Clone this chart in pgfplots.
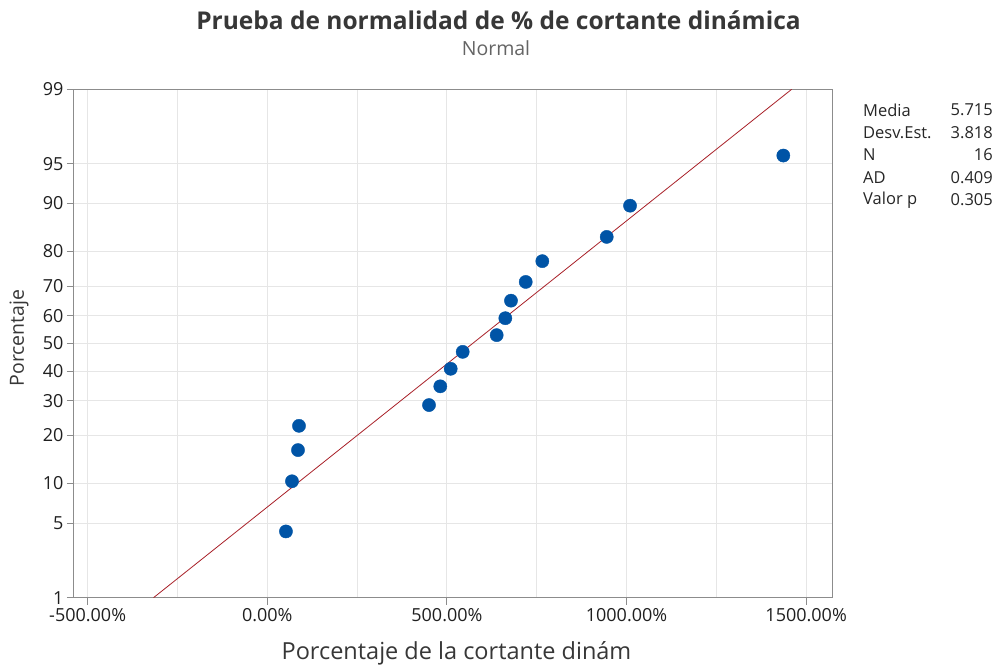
\documentclass[border=0pt]{standalone}
\usepackage{pgfplots}
\pgfplotsset{compat=1.18}
\usepackage{fontspec}
\setmainfont{Open Sans}
\IfFontExistsTF{Open Sans SemiBold}{\newfontfamily\semib{Open Sans SemiBold}}{\newcommand\semib{\bfseries}}
\definecolor{ptblue}{RGB}{0,84,166}
\definecolor{fitred}{RGB}{168,32,40}
\definecolor{gridc}{RGB}{230,230,230}
\definecolor{axc}{RGB}{140,140,140}
\definecolor{titc}{RGB}{55,55,55}
\definecolor{subc}{RGB}{100,100,100}
\begin{document}
\begin{tikzpicture}[x=1pt,y=1pt]
\path[use as bounding box] (-74,-71.3) rectangle (926,597.7);
\begin{axis}[
  at={(0,0)}, anchor=south west,
  scale only axis, width=758pt, height=508.4pt,
  xmin=-5.38, xmax=15.72, ymin=-2.3263, ymax=2.3263,
  xtick={-5,0,5,10,15},
  xticklabels={-500.00\%,0.00\%,500.00\%,1000.00\%,1500.00\%},
  minor xtick={-2.5,2.5,7.5,12.5},
  ytick={-2.3263,-1.6449,-1.2816,-0.8416,-0.5244,-0.2533,0,0.2533,0.5244,0.8416,1.2816,1.6449,2.3263},
  yticklabels={1,5,10,20,30,40,50,60,70,80,90,95,99},
  grid=both,
  major grid style={gridc, line width=1pt},
  minor grid style={gridc, line width=1pt},
  axis line style={axc, line width=1pt},
  tick style={axc, line width=1pt},
  tick align=outside, major tick length=7pt, minor tick length=0pt,
  xtick pos=lower, ytick pos=left,
  ticklabel style={font=\fontsize{18}{18}\selectfont, text=black!88},
  clip=true,
]
\addplot[fitred, line width=0.8pt] coordinates {(-3.167,-2.3263) (14.597,2.3263)};
\addplot[only marks, mark=*, mark size=6.6pt, mark options={draw=ptblue, fill=ptblue}] coordinates {
(0.520,-1.7200)
(0.688,-1.2610)
(0.855,-0.9755)
(0.883,-0.7535)
(4.502,-0.5633)
(4.816,-0.3918)
(5.106,-0.2315)
(5.440,-0.0765)
(6.386,0.0765)
(6.626,0.2315)
(6.784,0.3918)
(7.194,0.5633)
(7.656,0.7535)
(9.449,0.9755)
(10.098,1.2610)
(14.365,1.7200)
};
\end{axis}
\node[text=titc, font=\fontsize{24.5}{24.5}\selectfont\semib] at (424.5,577.7) {Prueba de normalidad de \% de cortante dinámica};
\node[text=subc, font=\fontsize{19.5}{19.5}\selectfont] at (422,549.7) {Normal};
\node[text=titc, font=\fontsize{19.5}{19.5}\selectfont, rotate=90] at (-55,259.7) {Porcentaje};
\node[text=titc, font=\fontsize{23.5}{23.5}\selectfont] at (382.5,-55.3) {Porcentaje de la cortante dinám};
\begin{scope}[font=\fontsize{16.5}{16.5}\selectfont, text=black!85, inner sep=0pt]
\node[anchor=west] at (789,487.7) {Media};
\node[anchor=west] at (789,465.0) {Desv.Est.};
\node[anchor=west] at (789,442.7) {N};
\node[anchor=west] at (789,420.4) {AD};
\node[anchor=west] at (789,397.7) {Valor p};
\node[anchor=east] at (919,487.7) {5.715};
\node[anchor=east] at (919,465.0) {3.818};
\node[anchor=east] at (919,442.7) {16};
\node[anchor=east] at (919,420.4) {0.409};
\node[anchor=east] at (919,397.7) {0.305};
\end{scope}
\end{tikzpicture}
\end{document}
